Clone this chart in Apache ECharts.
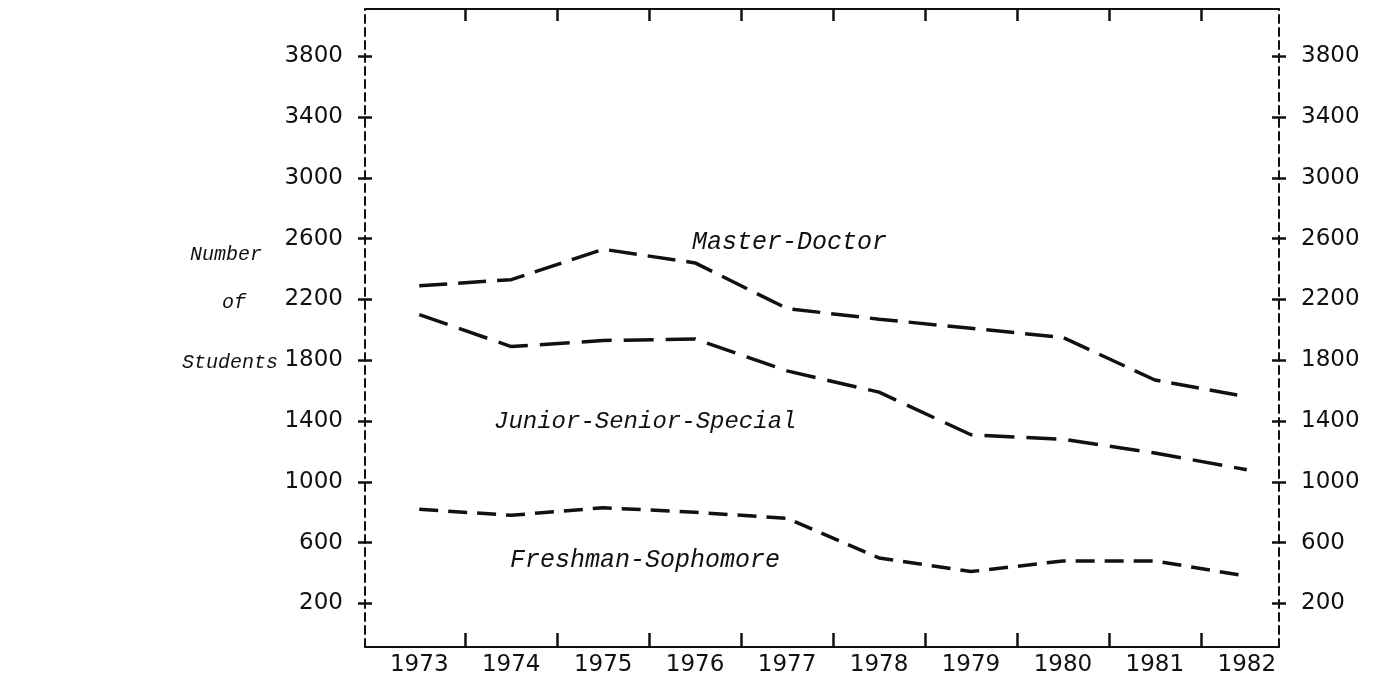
<!DOCTYPE html>
<html>
<head>
<meta charset="utf-8">
<script src="https://cdn.jsdelivr.net/npm/echarts@6/dist/echarts.min.js"></script>
<style>
  html, body { margin: 0; padding: 0; background: #fff; }
  #chart { width: 1381px; height: 684px; }
</style>
</head>
<body>
<div id="chart"></div>
<script>
// enrolment by level
var years = [1973, 1974, 1975, 1976, 1977, 1978, 1979, 1980, 1981, 1982]
var masterDoctor = [2290, 2330, 2530, 2440, 2140, 2070, 2010, 1950, 1670, 1560]
var juniorSeniorSpecial = [2100, 1890, 1930, 1940, 1730, 1590, 1310, 1280, 1190, 1080]
var freshmanSophomore = [820, 780, 830, 800, 760, 500, 410, 480, 480, 380]
var yTicks = [200, 600, 1000, 1400, 1800, 2200, 2600, 3000, 3400, 3800]
var xTicks = years.slice(0, -1).map(function (y) { return y + 0.5 })

var ink = '#111'
var monoItalic = { fontFamily: 'Liberation Mono', fontStyle: 'italic', fill: ink }

function pairs(vals) {
  return years.map(function (y, i) { return [y, vals[i]] })
}

// y axes: two per side so the tick crosses the dashed border like a "+"
function yAxis(position, inside, showLabel) {
  return {
    type: 'value',
    position: position,
    min: -86,
    max: 4110,
    splitLine: { show: false },
    axisLine: {
      show: !inside,
      lineStyle: { color: ink, width: 2, type: [8, 5] }
    },
    axisTick: {
      show: true,
      inside: inside,
      length: 7,
      customValues: yTicks,
      lineStyle: { color: ink, width: 2.5 }
    },
    axisLabel: {
      show: showLabel,
      customValues: yTicks,
      margin: 22,
      color: ink,
      fontSize: 23,
      fontFamily: 'DejaVu Sans',
      formatter: function (v) { return String(v) }
    }
  }
}

function xAxis(position, showLabel, tickLen) {
  return {
    type: 'value',
    position: position,
    min: 1972.41,
    max: 1982.35,
    splitLine: { show: false },
    axisLine: { show: true, onZero: false, lineStyle: { color: ink, width: 2 } },
    axisTick: {
      show: true,
      inside: true,
      length: tickLen,
      customValues: xTicks,
      lineStyle: { color: ink, width: 2.5 }
    },
    axisLabel: {
      show: showLabel,
      customValues: years,
      margin: 7,
      color: ink,
      fontSize: 23,
      fontFamily: 'DejaVu Sans',
      formatter: function (v) { return String(v) }
    }
  }
}

function lineSeries(name, vals, dash) {
  return {
    name: name,
    type: 'line',
    xAxisIndex: 0,
    yAxisIndex: 0,
    symbol: 'none',
    silent: true,
    lineStyle: { color: ink, width: 3.5, type: dash },
    data: pairs(vals)
  }
}

var chart = echarts.init(document.getElementById('chart'))
chart.setOption({
  backgroundColor: '#fff',
  animation: false,
  grid: { left: 365, right: 102, top: 9, bottom: 37, containLabel: false },
  xAxis: [xAxis('bottom', true, 14), xAxis('top', false, 12)],
  yAxis: [
    yAxis('left', false, true),
    yAxis('left', true, false),
    yAxis('right', false, true),
    yAxis('right', true, false)
  ],
  series: [
    lineSeries('Master-Doctor', masterDoctor, [28, 11]),
    lineSeries('Junior-Senior-Special', juniorSeniorSpecial, [30, 12]),
    lineSeries('Freshman-Sophomore', freshmanSophomore, [19, 10])
  ],
  graphic: [
    { type: 'text', left: 692, top: 230, style: Object.assign({ text: 'Master-Doctor', fontSize: 25 }, monoItalic) },
    { type: 'text', left: 494, top: 410, style: Object.assign({ text: 'Junior-Senior-Special', fontSize: 24 }, monoItalic) },
    { type: 'text', left: 510, top: 548, style: Object.assign({ text: 'Freshman-Sophomore', fontSize: 25 }, monoItalic) },
    { type: 'text', left: 190, top: 245, style: Object.assign({ text: 'Number', fontSize: 20 }, monoItalic) },
    { type: 'text', left: 222, top: 293, style: Object.assign({ text: 'of', fontSize: 20 }, monoItalic) },
    { type: 'text', left: 182, top: 353, style: Object.assign({ text: 'Students', fontSize: 20 }, monoItalic) }
  ]
})
</script>
</body>
</html>
